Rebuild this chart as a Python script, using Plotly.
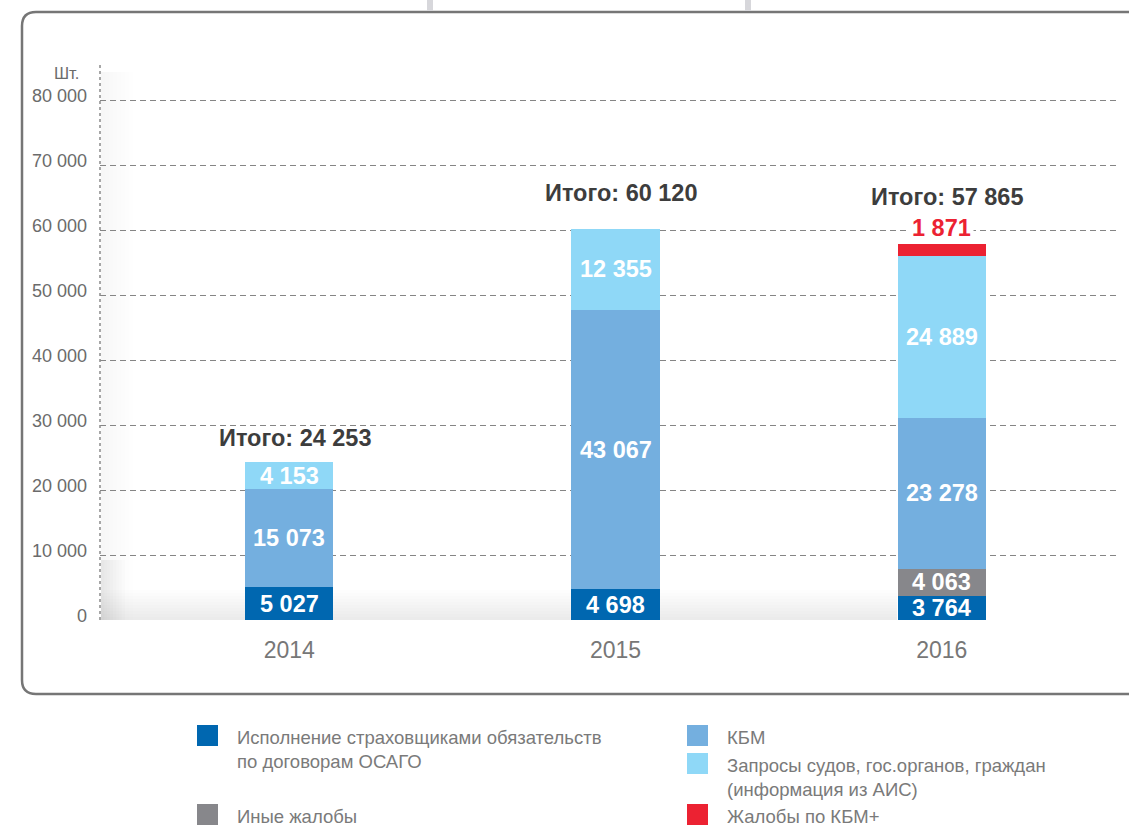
import plotly.graph_objects as go

# ---- data -------------------------------------------------------------
years = ["2014", "2015", "2016"]

series_names = [
    "Исполнение страховщиками обязательств<br>по договорам ОСАГО",
    "Иные жалобы",
    "КБМ",
    "Запросы судов, гос.органов, граждан<br>(информация из АИС)",
    "Жалобы по КБМ+",
]
osago = [5027, 4698, 3764]
other_complaints = [None, None, 4063]
kbm = [15073, 43067, 23278]
court_requests = [4153, 12355, 24889]
kbm_plus = [None, None, 1871]

y_tick_values = [0, 10000, 20000, 30000, 40000, 50000, 60000, 70000, 80000]
y_tick_labels = ["0", "10 000", "20 000", "30 000", "40 000",
                 "50 000", "60 000", "70 000", "80 000"]
unit_label = "Шт."
total_prefix = "Итого: "

# ---- styling ----------------------------------------------------------
FONT = "Arial, 'Liberation Sans', sans-serif"
colors = ["#0067b0", "#87878b", "#74afdf", "#8fd8f7", "#ec2232"]
series = [osago, other_complaints, kbm, court_requests, kbm_plus]

# plot area in pixels (canvas 1129 x 826)
PL, PR, PT, PB = 100, 1118, 65, 620
Y_MAX = 85400


def px(x):
    return (x - PL) / (PR - PL)


def py(y):
    return (PB - y) / (PB - PT)


def fmt(v):
    return f"{v:,}".replace(",", " ")


fig = go.Figure()
for name, vals, col in zip(series_names, series, colors):
    fig.add_trace(go.Bar(
        x=years, y=vals, name=name, marker=dict(color=col, line=dict(width=0)),
        width=0.27, showlegend=False, hoverinfo="skip",
    ))

annotations = []
shapes = []

# segment labels (inside) and totals; category positions are 0, 1, 2
bases = [0, 0, 0]
for si, vals in enumerate(series):
    for i, v in enumerate(vals):
        if v is None:
            continue
        if si == 4:
            annotations.append(dict(
                x=i, y=bases[i] + v, xref="x", yref="y", yanchor="bottom",
                text=f"<b>{fmt(v)}</b>", showarrow=False, yshift=0,
                font=dict(family=FONT, size=23.5, color=colors[4]),
                bgcolor="white", borderpad=2,
            ))
        else:
            annotations.append(dict(
                x=i, y=bases[i] + v / 2, xref="x", yref="y",
                text=f"<b>{fmt(v)}</b>", showarrow=False, yshift=0,
                font=dict(family=FONT, size=23.5, color="white"),
            ))
        bases[i] += v

total_offsets = [24, 36, 47]
for i in range(len(years)):
    annotations.append(dict(
        x=i, y=bases[i], xref="x", yref="y", yshift=total_offsets[i],
        xshift=6, text=f"<b>{total_prefix}{fmt(bases[i])}</b>", showarrow=False,
        font=dict(family=FONT, size=23.5, color="#3d3d3d"),
    ))

annotations.append(dict(
    x=px(81), y=py(62), xref="paper", yref="paper", xanchor="right",
    text=unit_label, showarrow=False,
    font=dict(family=FONT, size=16.5, color="#6b6b6b"),
))

# legend drawn as swatches + text
legend_items = [
    (0, 197, 725), (1, 197, 804),
    (2, 687, 725), (3, 687, 753), (4, 687, 804),
]
for si, lx, ly in legend_items:
    shapes.append(dict(
        type="rect", xref="paper", yref="paper",
        x0=px(lx), x1=px(lx + 21), y0=py(ly), y1=py(ly + 21),
        fillcolor=colors[si], line=dict(width=0),
    ))
    annotations.append(dict(
        x=px(lx + 38), y=py(ly), xref="paper", yref="paper",
        xanchor="left", yanchor="top", align="left",
        text=series_names[si], showarrow=False,
        font=dict(family=FONT, size=18.5, color="#7a7a7a"),
    ))

# soft shading along the left axis and the floor
for k in range(8):
    shapes.append(dict(
        type="rect", xref="paper", yref="paper", layer="below",
        x0=px(101), x1=px(101 + 4 * (k + 1)), y0=py(620), y1=py(72),
        fillcolor="rgba(0,0,0,0.003)", line=dict(width=0),
    ))
    shapes.append(dict(
        type="rect", xref="paper", yref="paper", layer="below",
        x0=px(101), x1=px(101 + 3 * (k + 1)), y0=py(620), y1=py(560),
        fillcolor="rgba(0,0,0,0.006)", line=dict(width=0),
    ))
for k in range(10):
    shapes.append(dict(
        type="rect", xref="paper", yref="paper", layer="below",
        x0=px(101), x1=px(897), y0=py(620), y1=py(620 - 3 * (k + 1)),
        fillcolor="rgba(0,0,0,0.007)", line=dict(width=0),
    ))

# dashed vertical axis
shapes.append(dict(
    type="line", xref="paper", yref="paper", x0=0, x1=0, y0=0, y1=1,
    line=dict(color="#8a8a8a", width=1.5, dash="3px,3px"),
))

# rounded frame around the chart
L, R, T, B = px(22), px(1160), py(12), py(694)
rx, ry = 14 / (PR - PL), 14 / (PB - PT)
frame = (f"M {R},{T} L {L + rx},{T} Q {L},{T} {L},{T - ry} "
         f"L {L},{B + ry} Q {L},{B} {L + rx},{B} L {R},{B}")
shapes.append(dict(type="path", xref="paper", yref="paper", path=frame,
                   line=dict(color="#767676", width=2.5)))

# small connectors above the frame
for sx in (430, 748):
    shapes.append(dict(
        type="line", xref="paper", yref="paper",
        x0=px(sx), x1=px(sx), y0=py(0), y1=py(11),
        line=dict(color="#d7d7db", width=6),
    ))

fig.update_layout(
    barmode="stack",
    width=1129, height=826,
    margin=dict(l=PL, r=1129 - PR, t=PT, b=826 - PB, pad=0),
    paper_bgcolor="white", plot_bgcolor="rgba(0,0,0,0)",
    font=dict(family=FONT),
    annotations=annotations,
    shapes=shapes,
    xaxis=dict(
        type="category", range=[-0.58, 2.54], showgrid=False, zeroline=False,
        showline=False, ticks="", ticklabelstandoff=14,
        tickfont=dict(family=FONT, size=23, color="#777777"),
    ),
    yaxis=dict(
        range=[0, Y_MAX], tickvals=y_tick_values, ticktext=y_tick_labels,
        showgrid=True, gridcolor="#858585", gridwidth=1.3, griddash="6px,4px",
        zeroline=False, showline=False, ticks="", ticklabelstandoff=12,
        ticklabelshift=-4,
        tickfont=dict(family=FONT, size=18, color="#6b6b6b"),
    ),
)

fig.write_html("out.html")
